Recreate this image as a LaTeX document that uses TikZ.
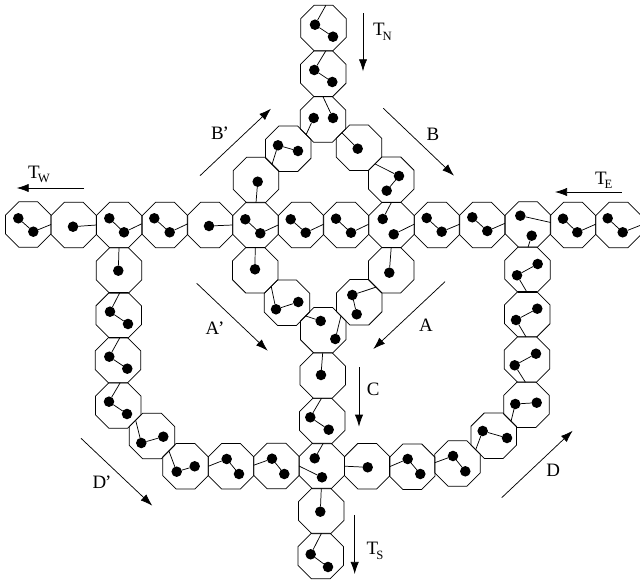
\documentclass[tikz,border=0pt]{standalone}
\usepackage{fontspec}
\setmainfont{Liberation Serif}
\usetikzlibrary{shapes.geometric,arrows.meta}
\newcommand{\tsub}[1]{T\kern-1.5pt\raisebox{-3.5pt}{\fontsize{9.5}{10}\selectfont #1}}
\newcommand{\prm}[1]{#1\kern-1pt'}
\tikzset{
    cellnode/.style={draw, regular polygon, regular polygon sides=8, inner sep=0pt, outer sep=0pt, minimum size=36.9pt, line width=0.55pt},
    ballnode/.style={circle, fill=black, inner sep=0pt, outer sep=0pt, minimum size=7.9pt},
    linkline/.style={line width=0.55pt},
    flowline/.style={line width=0.55pt, -{Latex[length=9pt,width=6.2pt]}},
    labelnode/.style={inner sep=0pt, font=\fontsize{14.2}{16}\selectfont}
}
\begin{document}
\begin{tikzpicture}[x=0.75pt,y=-0.75pt]
\useasboundingbox (0,0) rectangle (640,580);

% Cells with two linked balls: the first ball is also tied to the cell wall
\foreach \n/\cx/\cy/\ax/\ay/\bx/\by/\ang in {
    ha/28.3/224.5/33.3/231.7/18.3/218.3/0,
    hc/119/225/124/232.3/109.3/218.3/3,
    hd/165/225/169.7/232.3/154.3/218.3/3,
    hf/255.5/225/260.3/233.3/245.3/219.3/0,
    hg/301/225/305.7/232.7/290.7/219.3/2,
    hh/346/225/351/232.7/336/218.7/2,
    hj/437/225/441.7/231.7/426.7/218/2,
    hk/482/225/487.3/231/472.3/217.3/4,
    hm/573/225/577.3/232.3/563/218.7/2,
    hn/618.5/225/622.7/232.3/607.7/218.3/0,
    na/323.5/28/315/24.7/333/36.7/84,
    nb/323.3/73.8/314.3/70/332.3/82/84,
    pa/288.3/148.8/278/145.3/298/151/224,
    qb/391.3/179.7/399/176/386.7/190.7/136,
    lb/287/302.7/276/309.3/298.3/302/134,
    rb/359.3/302.3/352.3/295/356.7/314.3/42,
    cc/322.3/421/310.3/417.3/328.7/429.7/92,
    sb/320.7/556/310.7/554.3/328/567/88,
    eb/412.3/466.7/407.7/459/420.3/474/180,
    ec/457.5/463.5/453/456/465.3/471.3/178,
    ed/493.7/435.7/482.7/431/507/438/218,
    ee/526.5/404.7/515.3/404/536.7/402.7/227,
    ef/527/359.5/514.7/365.3/536/353.7/266,
    eg/527.3/314.3/516/320/537.3/308.7/267,
    eh/527.5/269.7/517/275.3/537.7/264/269,
    wb/118.7/315.2/110/311.7/128/324/87,
    wc/118/360.2/109.3/356.7/127.3/368.7/85,
    wd/118.2/405.5/109/401.7/127/414/85,
    we/152/436/141.3/443/163.3/436.7/136,
    wf/185.5/466.3/176.7/471.7/194.7/466.3/137,
    wg/231/466.3/226.7/459/239/474/180,
    wh/276.5/466/272/458.7/284.3/474/178} {
    \node[cellnode] (\n) at (\cx,\cy) {};
    \node[ballnode] (\n-a) at (\ax,\ay) {};
    \node[ballnode] (\n-b) at (\bx,\by) {};
    \draw[linkline] (\n.\ang) -- (\n-a) -- (\n-b);
}

% Cells with one ball
\foreach \n/\cx/\cy/\ax/\ay/\ang in {
    hb/73.8/225/73/226.7/0,
    he/210/225/209/226/0,
    pb/256/180/257.7/181.7/270,
    qa/359/147.7/357.7/148.7/139,
    wa/119/270.5/118.3/270.7/90,
    la/255.2/270.3/255/269.3/90,
    ra/391.2/270.3/389.3/272.7/90,
    ca/322.7/375.5/321/375/90,
    sa/321.3/511/320.3/511.7/90,
    ea/367.2/466.2/367.7/467.3/180} {
    \node[cellnode] (\n) at (\cx,\cy) {};
    \node[ballnode] (\n-a) at (\ax,\ay) {};
    \draw[linkline] (\n.\ang) -- (\n-a);
}

% Junction cells: two balls, each tied to the wall on its own
\foreach \n/\cx/\cy/\ax/\ay/\anga/\bx/\by/\angb in {
    nc/323/119.5/333/118/90/313.7/118/222,
    hi/391.5/225/382.7/219/90/393.7/234.3/2,
    hl/528/224.5/520.3/215.7/5/531.7/235.7/270,
    cj/323.2/330.3/320.7/321/141/335.3/339/39,
    cd/321.7/466/314.7/458.3/86/322/477.3/180} {
    \node[cellnode] (\n) at (\cx,\cy) {};
    \node[ballnode] (\n-a) at (\ax,\ay) {};
    \node[ballnode] (\n-b) at (\bx,\by) {};
    \draw[linkline] (\n.\anga) -- (\n-a);
    \draw[linkline] (\n.\angb) -- (\n-b);
}

% Arrows and their labels
\foreach \n/\xa/\ya/\xb/\yb/\lx/\ly/\txt in {
    tw/84/188/16.7/188/39/174.5/{\tsub{W}},
    tn/363/13.3/363/71.3/382.5/31.7/{\tsub{N}},
    te/621.7/192/555/192/603.8/180.3/{\tsub{E}},
    ts/354.7/515/354.7/574/375/551/{\tsub{S}},
    bp/200/175.7/271/108.7/220/133.3/{\prm{B}},
    bq/383.3/108.3/454/175.7/433/134/{B},
    ap/196.7/283.3/267.7/350.7/215/328.3/{\prm{A}},
    aq/445/281.7/373.3/349/426/325.7/{A},
    cq/359/367.3/359/426.7/373.3/389.3/{C},
    dp/81/438.3/152.3/505.7/102/482.7/{\prm{D}},
    dq/501.7/497.7/572.7/430.7/553.3/470/{D}} {
    \coordinate (\n-s) at (\xa,\ya);
    \coordinate (\n-e) at (\xb,\yb);
    \draw[flowline] (\n-s) -- (\n-e);
    \node[labelnode] (\n-l) at (\lx,\ly) {\txt};
}
\end{tikzpicture}
\end{document}
